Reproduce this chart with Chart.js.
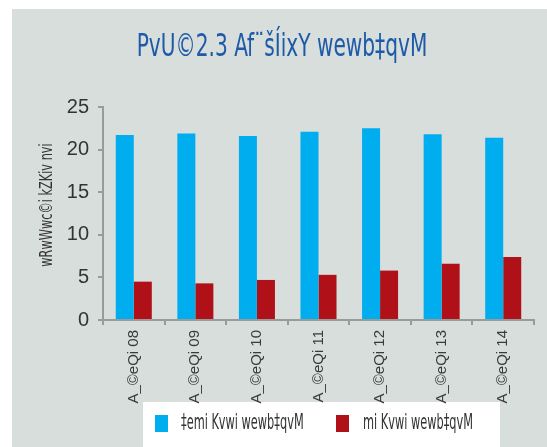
<!DOCTYPE html>
<html>
<head>
<meta charset="utf-8">
<script src="https://cdn.jsdelivr.net/npm/chart.js@4"></script>
<style>
	html, body { margin: 0; padding: 0; background: #fff; }
	#wrap { position: absolute; left: 12px; top: 9px; width: 535px; height: 438px; }
</style>
</head>
<body>
<div id="wrap"><canvas id="chart" width="535" height="438"></canvas></div>
<script>
const years = ['A_©eQi 08', 'A_©eQi 09', 'A_©eQi 10', 'A_©eQi 11', 'A_©eQi 12', 'A_©eQi 13', 'A_©eQi 14'];
const privateInv = [21.7, 21.9, 21.6, 22.1, 22.5, 21.8, 21.4];
const publicInv = [4.5, 4.3, 4.7, 5.3, 5.8, 6.6, 7.4];
const yTicks = [0, 5, 10, 15, 20, 25];
const titleText = 'PvU©2.3 Af¨šÍixY wewb‡qvM';
const yTitleText = 'wRwWwc©i kZKiv nvi';

const narrow = '"DejaVu Sans Condensed", "Liberation Sans Narrow", sans-serif';
const plain = '"Liberation Sans", Arial, sans-serif';

// the original font is very condensed, so squeeze text horizontally
const squeezed = (ctx, text, x, y, sx, align, rot) => {
	ctx.save();
	ctx.translate(x, y);
	if (rot) ctx.rotate(rot);
	ctx.scale(sx, 1);
	ctx.textAlign = align;
	ctx.textBaseline = 'middle';
	ctx.fillText(text, 0, 0);
	ctx.restore();
};

// grey panel, white legend box, title, axis title, legend
const decor = {
	id: 'decor',
	beforeDraw: chart => {
		const ctx = chart.ctx;
		ctx.save();
		ctx.fillStyle = '#d7dedb';
		ctx.fillRect(0, 0, chart.width, chart.height);
		ctx.fillStyle = '#ffffff';
		ctx.fillRect(131, 393, 357, 45);
		ctx.restore();
	},
	afterDraw: chart => {
		const ctx = chart.ctx;
		ctx.save();
		ctx.fillStyle = '#1e5aa8';
		ctx.font = `32px ${narrow}`;
		squeezed(ctx, titleText, 270, 39, 0.7, 'center');

		ctx.fillStyle = '#333';
		ctx.font = `17px ${narrow}`;
		squeezed(ctx, yTitleText, 36, 196, 0.74, 'center', -Math.PI / 2);

		const pos = [[143, 169], [324, 351]];
		chart.data.datasets.forEach((ds, i) => {
			ctx.fillStyle = ds.backgroundColor;
			ctx.fillRect(pos[i][0], 406, 13, 17);
			ctx.fillStyle = '#333';
			ctx.font = `21px ${narrow}`;
			squeezed(ctx, ds.label, pos[i][1], 415, 0.6, 'left');
		});
		ctx.restore();
	}
};

new Chart(document.getElementById('chart'), {
	type: 'bar',
	data: {
		labels: years,
		datasets: [{
			label: '‡emi Kvwi wewb‡qvM',
			data: privateInv,
			backgroundColor: '#00adee',
			categoryPercentage: 0.585,
			barPercentage: 1
		}, {
			label: 'mi Kvwi wewb‡qvM',
			data: publicInv,
			backgroundColor: '#b01018',
			categoryPercentage: 0.585,
			barPercentage: 1
		}]
	},
	options: {
		responsive: false,
		animation: false,
		layout: { padding: { left: 0, right: 13, top: 98, bottom: 0 } },
		plugins: {
			title: { display: false },
			legend: { display: false },
			tooltip: { enabled: false }
		},
		scales: {
			x: {
				grid: { drawOnChartArea: false, offset: true, tickLength: 5, color: '#9a9a9a', lineWidth: 2 },
				border: { color: '#9a9a9a', width: 2 },
				ticks: {
					color: '#3a3a3a',
					minRotation: 90,
					maxRotation: 90,
					padding: 5,
					font: { family: plain, size: 15 }
				},
				afterFit: scale => { scale.height = 127; }
			},
			y: {
				min: 0,
				max: 25,
				afterBuildTicks: scale => { scale.ticks = yTicks.map(v => ({ value: v })); },
				grid: { drawOnChartArea: false, tickLength: 5, color: '#9a9a9a', lineWidth: 2 },
				border: { color: '#9a9a9a', width: 2 },
				ticks: {
					color: '#333',
					padding: 9,
					font: { family: plain, size: 20 }
				},
				afterFit: scale => { scale.width = 91; }
			}
		}
	},
	plugins: [decor]
});
</script>
</body>
</html>
